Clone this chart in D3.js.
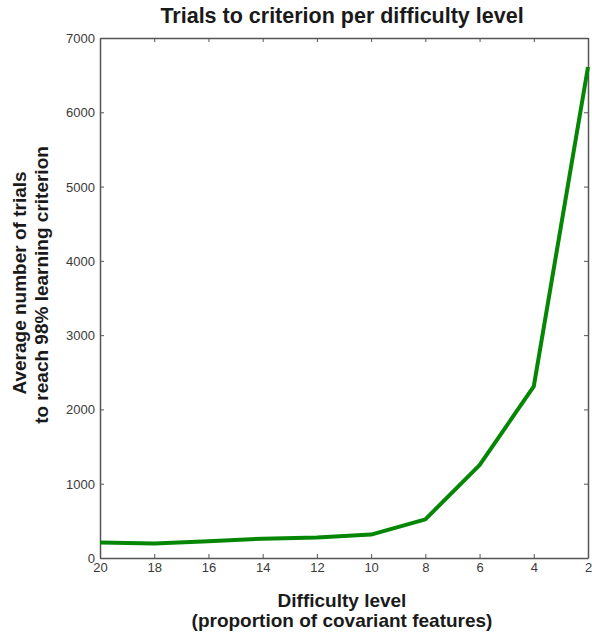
<!DOCTYPE html>
<html>
<head>
<meta charset="utf-8">
<script src="https://cdn.jsdelivr.net/npm/d3@7"></script>
<style>
  html, body { margin: 0; padding: 0; background: #fff; }
  svg { display: block; }
</style>
</head>
<body>
<svg id="chart" width="592" height="635"></svg>
<script>
// Difficulty level (number of covariant features) and average trials to criterion
const difficulty = [20, 18, 16, 14, 12, 10, 8, 6, 4, 2];
const avgTrials = [210, 195, 225, 260, 275, 315, 520, 1250, 2310, 6610];
const xTicks = [20, 18, 16, 14, 12, 10, 8, 6, 4, 2];
const yTicks = [0, 1000, 2000, 3000, 4000, 5000, 6000, 7000];

const svg = d3.select("#chart");
const margin = { left: 100, top: 38, right: 4, bottom: 77 };
const W = 592, H = 635;
const x0 = margin.left, x1 = W - margin.right;
const y0 = H - margin.bottom, y1 = margin.top;

const x = d3.scaleLinear().domain([20, 2]).range([x0, x1]);
const y = d3.scaleLinear().domain([0, 7000]).range([y0, y1]);

const tickFont = "Liberation Sans, Arial, sans-serif";
const axisColor = "#555";
const tickText = "#3a3a3a";

// Bottom axis
const gx = svg.append("g").attr("transform", `translate(0,${y0})`)
  .call(d3.axisBottom(x).tickValues(xTicks).tickSizeInner(-4).tickSizeOuter(0).tickPadding(6));
// Top axis (ticks only)
const gxt = svg.append("g").attr("transform", `translate(0,${y1})`)
  .call(d3.axisTop(x).tickValues(xTicks).tickSizeInner(-4).tickSizeOuter(0).tickFormat(""));
// Left axis
const gy = svg.append("g").attr("transform", `translate(${x0},0)`)
  .call(d3.axisLeft(y).tickValues(yTicks).tickFormat(d3.format("d"))
    .tickSizeInner(4).tickSizeOuter(0).tickPadding(1));
// Right axis (ticks only)
const gyr = svg.append("g").attr("transform", `translate(${x1},0)`)
  .call(d3.axisRight(y).tickValues(yTicks).tickSizeInner(-4).tickSizeOuter(0).tickFormat(""));

// Left-axis ticks point into the plot frame
gy.selectAll(".tick line").attr("x2", 4);

[gx, gxt, gy, gyr].forEach(g => {
  g.select(".domain").attr("stroke", axisColor).attr("stroke-width", 1.5);
  g.selectAll(".tick line").attr("stroke", axisColor).attr("stroke-width", 1);
  g.selectAll(".tick text")
    .attr("fill", tickText)
    .style("font-family", tickFont)
    .style("font-size", "13px");
});
gx.selectAll(".tick text").attr("dy", "0.6em");
gy.selectAll(".tick text").attr("dy", "0.35em");

// Data line
const line = d3.line().x((d, i) => x(difficulty[i])).y(d => y(d));
svg.append("path")
  .datum(avgTrials)
  .attr("d", line)
  .attr("fill", "none")
  .attr("stroke", "#058705")
  .attr("stroke-width", 4)
  .attr("stroke-linejoin", "round")
  .attr("stroke-linecap", "butt");

const labelFont = "Liberation Sans, Arial, sans-serif";

// Title
svg.append("text")
  .attr("x", 342).attr("y", 23)
  .attr("text-anchor", "middle")
  .style("font-family", labelFont)
  .style("font-weight", "bold")
  .style("font-size", "21.5px")
  .attr("fill", "#1a1a1a")
  .text("Trials to criterion per difficulty level");

// X axis label
const xl = svg.append("text")
  .attr("text-anchor", "middle")
  .style("font-family", labelFont)
  .style("font-weight", "bold")
  .style("font-size", "19px")
  .attr("fill", "#1a1a1a");
xl.append("tspan").attr("x", 342).attr("y", 607).text("Difficulty level");
xl.append("tspan").attr("x", 342).attr("y", 627).text("(proportion of covariant features)");

// Y axis label
const yl = svg.append("text")
  .attr("transform", "translate(0,283) rotate(-90)")
  .attr("text-anchor", "middle")
  .style("font-family", labelFont)
  .style("font-weight", "bold")
  .style("font-size", "19px")
  .attr("fill", "#1a1a1a");
yl.append("tspan").attr("x", 0).attr("y", 26).text("Average number of trials");
yl.append("tspan").attr("x", -2).attr("y", 48).text("to reach 98% learning criterion");
</script>
</body>
</html>
